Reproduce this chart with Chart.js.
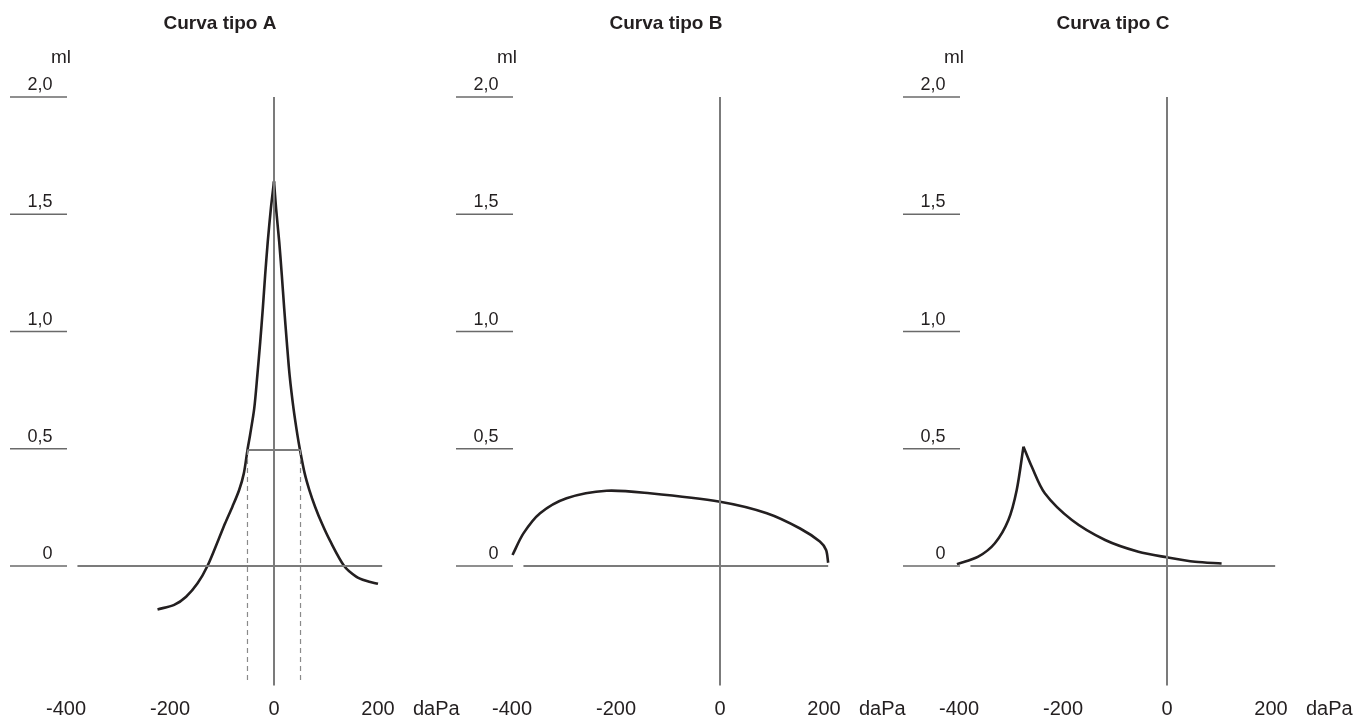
<!DOCTYPE html>
<html>
<head>
<meta charset="utf-8">
<script src="https://cdn.jsdelivr.net/npm/chart.js@4"></script>
<style>
  body { margin: 0; background: #fff; }
  .panel { position: absolute; top: 0; }
</style>
</head>
<body>
<canvas id="chartA" class="panel" width="464" height="719" style="left:0px"></canvas>
<canvas id="chartB" class="panel" width="464" height="719" style="left:446px"></canvas>
<canvas id="chartC" class="panel" width="464" height="719" style="left:893px"></canvas>
<script>
// axis ticks (ml / daPa)
const yTicks = [0, 0.5, 1.0, 1.5, 2.0];
const yTickLabels = ["0", "0,5", "1,0", "1,5", "2,0"];
const xTicks = [-400, -200, 0, 200];
const xTickLabels = ["-400", "-200", "0", "200"];
const titles = ["Curva tipo A", "Curva tipo B", "Curva tipo C"];

// reference axes drawn inside each panel
const zeroLinePress = [-378, 208];
const vertAxisVol = [-0.51, 2.0];

// Curva tipo A (two branches meeting at the peak)
const pressA_left = [-224, -192, -169, -147, -128, -107, -94, -80, -67, -58, -51, -46, -38, -32, -26.5, -21.5, -17, -12, -6, 0];
const volA_left = [-0.185, -0.166, -0.131, -0.074, 0, 0.111, 0.182, 0.253, 0.324, 0.395, 0.495, 0.559, 0.672, 0.814, 0.956, 1.099, 1.241, 1.383, 1.525, 1.64];
const pressA_right = [0, 4, 10, 15, 19.6, 24.6, 30, 37.5, 45, 50, 59, 68, 79, 92, 107, 135, 158, 177, 200];
const volA_right = [1.64, 1.525, 1.383, 1.241, 1.099, 0.956, 0.814, 0.672, 0.559, 0.495, 0.395, 0.324, 0.253, 0.182, 0.111, 0, -0.045, -0.063, -0.076];
// half-height width marker of curve A
const halfVolA = 0.495;
const halfPressA = [-51, 51];

// Curva tipo B
const pressB = [-399, -378, -346, -295, -218, -135, 0, 90, 154, 192, 204, 208];
const volB = [0.047, 0.139, 0.225, 0.289, 0.321, 0.31, 0.274, 0.225, 0.16, 0.104, 0.068, 0.014];

// Curva tipo C
const pressC_left = [-404, -363, -331, -305, -289, -276];
const volC_left = [0.008, 0.04, 0.097, 0.196, 0.324, 0.509];
const pressC_right = [-276, -260, -235, -183, -119, -55, 0, 54, 105];
const volC_right = [0.509, 0.423, 0.31, 0.196, 0.111, 0.061, 0.037, 0.018, 0.011];

const FONT = "'Liberation Sans', Arial, Helvetica, sans-serif";
const INK = "#231f20";
const AXIS_GRAY = "#7b7b7b";

function pts(xs, ys) {
  return xs.map((x, i) => ({ x: x, y: ys[i] }));
}

function curve(xs, ys) {
  return {
    data: pts(xs, ys),
    borderColor: INK,
    borderWidth: 2.6,
    pointRadius: 0,
    tension: 0.3,
    clip: false
  };
}

function axisLines() {
  return [
    {
      data: pts(zeroLinePress, [0, 0]),
      borderColor: AXIS_GRAY,
      borderWidth: 2,
      pointRadius: 0,
      clip: false
    },
    {
      data: pts([0, 0], vertAxisVol),
      borderColor: AXIS_GRAY,
      borderWidth: 2,
      pointRadius: 0,
      clip: false
    }
  ];
}

function makeDecor(title) {
  return {
    id: "decor",
    afterDraw(chart) {
      const ctx = chart.ctx;
      const xs = chart.scales.x;
      const ys = chart.scales.y;
      ctx.save();
      ctx.fillStyle = INK;

      // title
      ctx.font = "bold 19px " + FONT;
      ctx.textAlign = "center";
      ctx.fillText(title, 220, 29);

      // unit ml
      ctx.font = "19px " + FONT;
      ctx.fillText("ml", 61, 63);

      // y ticks as short rules with labels above
      ctx.strokeStyle = "#6a6a6a";
      ctx.lineWidth = 1.5;
      ctx.font = "18px " + FONT;
      ctx.textAlign = "right";
      yTicks.forEach((v, i) => {
        const py = ys.getPixelForValue(v);
        ctx.beginPath();
        ctx.moveTo(10, py);
        ctx.lineTo(67, py);
        ctx.stroke();
        ctx.fillText(yTickLabels[i], 52.5, py - 7);
      });

      // x tick labels
      ctx.font = "20px " + FONT;
      ctx.textAlign = "center";
      xTicks.forEach((v, i) => {
        ctx.fillText(xTickLabels[i], xs.getPixelForValue(v), 715);
      });
      ctx.textAlign = "left";
      ctx.fillText("daPa", xs.getPixelForValue(200) + 35, 715);
      ctx.restore();
    }
  };
}

function renderPanel(id, title, datasets) {
  const ctx = document.getElementById(id).getContext("2d");
  return new Chart(ctx, {
    type: "line",
    data: { datasets: datasets },
    options: {
      responsive: false,
      animation: false,
      events: [],
      layout: { padding: { left: 66, right: 80.8, top: 97, bottom: 33.4 } },
      scales: {
        x: { type: "linear", min: -400, max: 210, display: false },
        y: { type: "linear", min: -0.51, max: 2.0, display: false }
      },
      plugins: {
        legend: { display: false },
        tooltip: { enabled: false }
      }
    },
    plugins: [makeDecor(title)]
  });
}

// panel A: axes, half-width marker, dashed drop lines, curve
const dashedA = halfPressA.map(p => ({
  data: pts([p, p], [halfVolA, -0.5]),
  borderColor: "#8a8a8a",
  borderWidth: 1.2,
  borderDash: [5, 4],
  pointRadius: 0,
  clip: false
}));

renderPanel("chartA", titles[0], [
  ...axisLines(),
  {
    data: pts(halfPressA, [halfVolA, halfVolA]),
    borderColor: AXIS_GRAY,
    borderWidth: 2,
    pointRadius: 0,
    clip: false
  },
  ...dashedA,
  curve(pressA_left, volA_left),
  curve(pressA_right, volA_right)
]);

renderPanel("chartB", titles[1], [
  ...axisLines(),
  curve(pressB, volB)
]);

renderPanel("chartC", titles[2], [
  ...axisLines(),
  curve(pressC_left, volC_left),
  curve(pressC_right, volC_right)
]);
</script>
</body>
</html>
